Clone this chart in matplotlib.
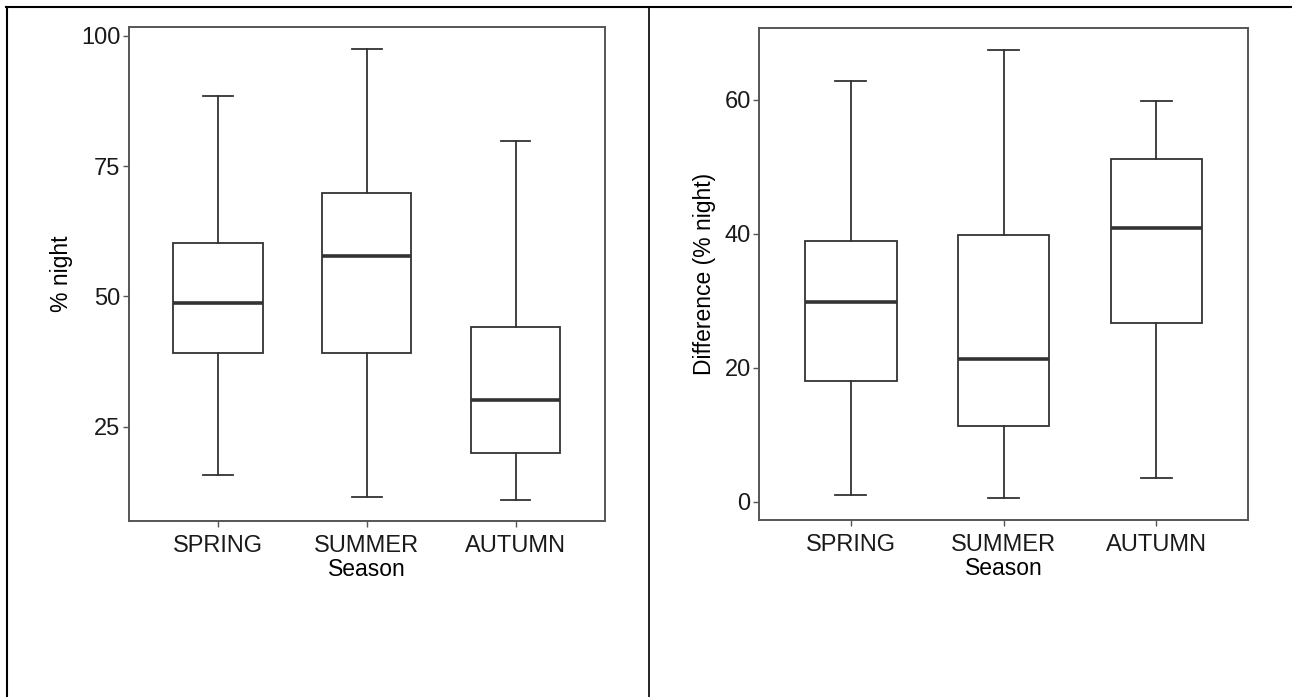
import numpy as np
import matplotlib.pyplot as plt
from matplotlib.lines import Line2D

plt.rcParams['font.family'] = ['Liberation Sans', 'DejaVu Sans']

seasons = ['SPRING', 'SUMMER', 'AUTUMN']

# left panel: % night
night_low = [15.8, 11.6, 11.0]
night_q1 = [39.2, 39.2, 19.9]
night_med = [48.7, 57.7, 30.2]
night_q3 = [60.2, 69.8, 44.2]
night_high = [88.5, 97.5, 79.8]

# right panel: difference (% night)
diff_low = [1.0, 0.55, 3.5]
diff_q1 = [18.0, 11.3, 26.7]
diff_med = [29.9, 21.3, 40.9]
diff_q3 = [38.9, 39.8, 51.2]
diff_high = [62.8, 67.5, 59.8]


def make_stats(low, q1, med, q3, high):
    stats = []
    for i in range(len(seasons)):
        stats.append({'whislo': low[i], 'q1': q1[i], 'med': med[i],
                      'q3': q3[i], 'whishi': high[i], 'fliers': [],
                      'label': seasons[i]})
    return stats


def draw_panel(ax, stats, ylim, yticks, ylabel):
    edge = '#333333'
    ax.bxp(stats, positions=[1, 2, 3], widths=0.6, capwidths=0.2,
           showfliers=False, patch_artist=True,
           boxprops=dict(facecolor='white', edgecolor=edge, linewidth=1.3),
           whiskerprops=dict(color=edge, linewidth=1.3),
           capprops=dict(color=edge, linewidth=1.3),
           medianprops=dict(color=edge, linewidth=2.6))
    ax.set_xlim(0.4, 3.6)
    ax.set_ylim(*ylim)
    ax.set_yticks(yticks)
    ax.set_xticks([1, 2, 3])
    ax.set_xticklabels(seasons, fontsize=17, color='#1a1a1a')
    ax.tick_params(axis='y', labelsize=17, labelcolor='#1a1a1a', pad=2)
    ax.tick_params(axis='x', pad=6)
    ax.tick_params(length=4, width=1, color='#555555')
    for sp in ax.spines.values():
        sp.set_color('#555555')
        sp.set_linewidth(1.4)
    ax.set_xlabel('Season', fontsize=16.5, labelpad=1)
    ax.set_ylabel(ylabel, fontsize=16.5, labelpad=6)


fig = plt.figure(figsize=(12.92, 6.97), dpi=100)

ax1 = fig.add_axes([0.0995, 0.2525, 0.3687, 0.7088])
draw_panel(ax1, make_stats(night_low, night_q1, night_med, night_q3, night_high),
           (6.9, 101.7), [25, 50, 75, 100], '% night')

ax2 = fig.add_axes([0.5875, 0.2539, 0.3785, 0.7059])
draw_panel(ax2, make_stats(diff_low, diff_q1, diff_med, diff_q3, diff_high),
           (-2.73, 70.75), [0, 20, 40, 60], 'Difference (% night)')

# table-like frame around the two panels
W, H = 1292.0, 697.0
fig.add_artist(Line2D([6 / W, 1], [1 - 7 / H, 1 - 7 / H], color='black', lw=1.5))
fig.add_artist(Line2D([6.5 / W, 6.5 / W], [0, 1 - 7 / H], color='black', lw=1.5))
fig.add_artist(Line2D([649 / W, 649 / W], [0, 1 - 7 / H], color='black', lw=1.2))

fig.savefig('out.png', dpi=100)
